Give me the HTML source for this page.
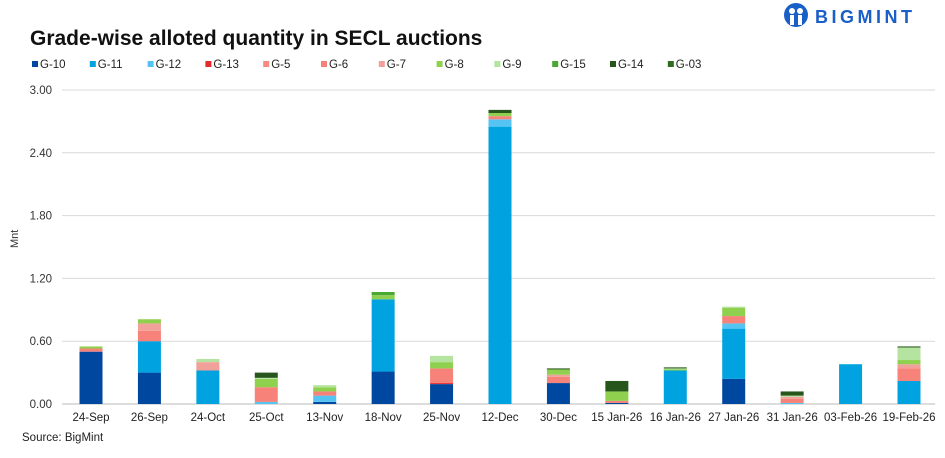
<!DOCTYPE html>
<html><head><meta charset="utf-8"><style>
body{margin:0;background:#fff;width:945px;height:453px;overflow:hidden;font-family:"Liberation Sans",sans-serif}
</style></head><body>
<svg id="c" width="945" height="453" xmlns="http://www.w3.org/2000/svg">
<text x="30" y="45" font-size="21" font-weight="bold" fill="#111">Grade-wise alloted quantity in SECL auctions</text>
<g>
<circle cx="796" cy="15" r="12" fill="#1a5ec8"/>
<circle cx="792" cy="11" r="3" fill="#fff"/><circle cx="800" cy="11" r="3" fill="#fff"/>
<rect x="790" y="15" width="4" height="10" fill="#fff"/><rect x="798" y="15" width="4" height="10" fill="#fff"/>
<text x="815" y="23" font-size="18" font-weight="bold" fill="#1a5ec8" letter-spacing="3.5">BIGMINT</text>
</g>
<g id="legend"></g><g id="grid"></g><g id="bars"></g><g id="xl"></g>
<text x="18" y="248" font-size="11" fill="#333" transform="rotate(-90 18 248)">Mnt</text>
<text x="22" y="441" font-size="11.5" fill="#222">Source: BigMint</text>
</svg>
<script>
const categories=["24-Sep","26-Sep","24-Oct","25-Oct","13-Nov","18-Nov","25-Nov","12-Dec","30-Dec","15 Jan-26","16 Jan-26","27 Jan-26","31 Jan-26","03-Feb-26","19-Feb-26"];
const grades=["G-10","G-11","G-12","G-13","G-5","G-6","G-7","G-8","G-9","G-15","G-14","G-03"];
const colors=["#0047a0","#00a3e0","#55c4f2","#e8282d","#f48a80","#f7827a","#f2a09a","#8fd14f","#b5e3a0","#4aa832","#27561c","#2e6b23"];
const g10=[0.50,0.30,0,0,0.02,0.31,0.19,0,0.20,0.01,0,0.24,0,0,0];
const g11=[0,0.30,0.32,0,0,0.69,0,2.65,0,0,0.32,0.48,0,0.38,0.22];
const g12=[0,0,0,0.02,0.06,0,0,0.07,0,0,0,0.05,0.01,0,0];
const g13=[0,0,0,0,0,0,0.01,0,0,0,0,0,0,0,0];
const g5=[0,0,0,0,0,0,0,0,0,0,0,0,0,0,0];
const g6=[0.03,0.10,0,0.14,0.04,0,0.14,0.03,0.06,0.02,0,0.07,0.04,0,0.12];
const g7=[0,0.07,0.08,0,0,0,0,0,0.02,0,0,0,0.02,0,0.04];
const g8=[0.02,0.04,0,0.08,0.04,0.04,0.06,0.03,0.05,0.09,0.01,0.08,0,0,0.04];
const g9=[0,0,0.03,0.01,0.02,0,0.06,0,0,0,0.01,0.01,0.01,0,0.12];
const g15=[0,0,0,0,0,0.03,0,0,0,0,0,0,0,0,0];
const g14=[0,0,0,0.05,0,0,0,0.03,0.01,0.10,0.01,0,0.04,0,0.01];
const g03=[0,0,0,0,0,0,0,0,0,0,0,0,0,0,0];
const series=[g10,g11,g12,g13,g5,g6,g7,g8,g9,g15,g14,g03];
const yTicks=["0.00","0.60","1.20","1.80","2.40","3.00"];
const NS="http://www.w3.org/2000/svg";
const y=v=>404-v*(314/3);
const x=i=>91+i*(818/14);
function mk(t,a,p){const e=document.createElementNS(NS,t);for(const k in a)e.setAttribute(k,a[k]);document.getElementById(p).appendChild(e);return e;}
yTicks.forEach(t=>{const v=parseFloat(t);
 const l=mk("line",{x1:62,x2:935,y1:y(v),y2:y(v),stroke:v==0?"#bbb":"#d9d9d9","stroke-width":1},"grid");
 
 
 const tx=mk("text",{x:52,y:y(v)+4,"font-size":11.5,fill:"#333","text-anchor":"end"},"grid");tx.textContent=t;
 
 
});
categories.forEach((c,i)=>{let acc=0;
 series.forEach((s,k)=>{const v=s[i];if(!v)return;
  const r=mk("rect",{x:x(i)-11.5,y:y(acc+v),width:23,height:y(acc)-y(acc+v),fill:colors[k]},"bars");
  
  
  acc+=v;});
 const t=mk("text",{x:x(i),y:421,"font-size":11.5,fill:"#222","text-anchor":"middle"},"xl");t.textContent=c;
 
 
});
let lx=32;
grades.forEach((g,k)=>{
 const r=mk("rect",{x:lx,y:61,width:6,height:6,fill:colors[k]},"legend");
 
 
 const t=mk("text",{x:lx+8,y:68,"font-size":11.5,fill:"#222"},"legend");t.textContent=g;
 
 
 lx+=57.8;
});
</script>
</body></html>
